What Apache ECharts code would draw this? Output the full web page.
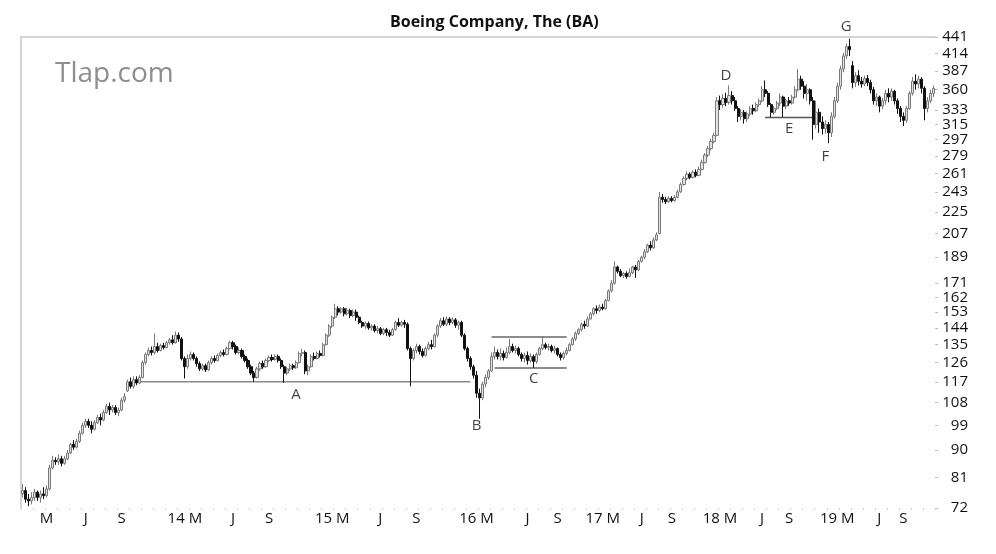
<!DOCTYPE html>
<html>
<head>
<meta charset="utf-8">
<title>Boeing Company, The (BA)</title>
<script src="https://cdn.jsdelivr.net/npm/echarts@6/dist/echarts.min.js"></script>
<style>
  html, body { margin: 0; padding: 0; background: #fff; }
  #chart { width: 996px; height: 554px; }
</style>
</head>
<body>
<div id="chart"></div>
<script>
// weekly bars, [open, close, low, high]
const bars2013 = [
  [76,77,75,79],[77,74.5,73.5,78],[74.5,74,72.5,76],[74,75,73,76.5],
  [75,76.5,74,77.5],[76.5,75,74,77],[75,76,73.5,77],[76,75.5,74.5,78],[75.5,77.5,75,78.5],[77.5,84,77,85],
  [84,86.5,83.5,88],[86.5,86,85,87.5],[86,87,85,88.5],[87,85.5,84.5,88],[85.5,87,85,88],[87,89,86.5,90],
  [89,92,88.5,92.5],[92,91,90,93.5],[91,93,90.5,94],[93,96,92.5,97],
  [96,99,95.5,100],[99,100.5,98,101.5],[100.5,99,98,101.5],[99,97.5,96,100.5],[97.5,100,97,101],[100,102,99.5,103],[102,101,99,103.5],
  [101,104,100.5,105],[104,106.5,103.5,107.5],[106.5,105,103,108],[105,106,104,107],[106,104,103,107],[104,105,102.5,106],
  [105,109,104.5,110],[109,110.5,108,112],
  [113,117,112.5,118],[117,115,114,119],[115,118,114,119.5],[118,116.5,115.5,119.5],[116.5,119,116,120],
  [119,126,118.5,127],[126,130,125,131],[130,132,129,133.5],[132,131,129.5,134],[131,134,130,141],
  [134,132,131,136],[132,134.5,131.5,135.5],[134.5,133.5,132.5,136],[133.5,136,133,137],[136,137.5,135,138.5],[137.5,136,135,140]
]
const bars2014 = [
  [136,140,135.5,142],[140,138,136.5,141.5],[138,128,127,139],[128,124,118.5,129],
  [124,128,123,130],[128,130,127,131.5],[130,128,127,131],[128,125.5,124,129],
  [125.5,123,122,126.5],[123,124.5,122,125.5],[124.5,122.5,121.5,125.5],
  [122.5,126,122,127],[126,128,125,129],[128,127,126,129.5],[127,129.5,126.5,130.5],[129.5,131,128.5,132],[131,130,129,132.5],[130,133,129.5,134],[133,136,132.5,137],
  [136,134,132.5,137],[134,131,130,135],[131,132,130,133.5],[132,129,128,133],[129,127,126,130],[127,124,123,128],[124,121,120,125],[121,119,117,122],
  [119,123,118.5,124],[123,125.5,122,126.5],[125.5,124,123,127],[124,127,123.5,128],[127,128.5,126,129.5],[128.5,127.5,126.5,130],[127.5,129,127,130],[129,127,126,130],
  [127,124,123,128],[124,121,116.5,125],[121,123,120,124],
  [123,124.5,122,125.5],[124.5,123.5,122.5,125.5],[123.5,126,123,127],
  [126,130.5,125.5,131.5],[130.5,131,129,133],
  [131,122,120.5,132],[122,124,120,125],
  [124,129,123.5,130],[129,128,127,131],[128,130.5,127.5,131.5]
]
const bars2015 = [
  [130.5,129.5,128.5,132],[129.5,135,129,136],[135,140,134.5,141],[140,145,139,146],[145,150,144,151],[150,155,149,158],
  [155,153,151,156.5],[153,155,152,156],[155,152,150.5,156],[152,154,151,155.5],[154,151,149.5,155],[151,153,150,154.5],[153,150,148,154.5],[150,147,146,151],
  [147,145,144,148],[145,146.5,143.5,147.5],[146.5,144,143,147.5],[144,145,142.5,146],[145,142.5,141.5,146],[142.5,143.5,141,145],[143.5,141,140,144.5],[141,143,140,144],[143,141.5,139.5,144],[141.5,140,139,143],[140,143,139.5,144],
  [143,147,142.5,148],[147,145.5,144.5,149.5],[145.5,147,144.5,148],[147,146,144,148.5],
  [146,133,132,147],[133,128,115,134],
  [128,132,127,133],[132,134,130.5,135.5],[134,131.5,130,135],[131.5,129.5,128.5,133],[129.5,133,129,134],[133,135,132,136.5],[135,134,132.5,137.5],
  [134,140,133.5,141],[140,145,139,146],[145,148,144,149.5],[148,146,145,150],[146,149,145,150.5],[149,147,145.5,150],[147,148.5,146,150],[148.5,145.5,144,149.5],[145.5,147,143,148],
  [147,140,139,148],[140,133,132,141]
]
const bars2016 = [
  [133,128,126.5,134],[128,124,122.5,129],[124,120,118.5,125],[120,112,110,122],[112,110,101.5,114],
  [110,116,109,117],[116,119,114.5,120.5],[119,122,118,123],[122,129,121.5,131],
  [129,131,127.5,134],[131,129,127.5,132.5],[129,130.5,127,133],[130.5,128.5,127,132],[128.5,131,128,133.5],[131,134,130,138],[134,132,131,135.5],[132,133,130.5,134.5],[133,130,129,134],[130,128,126.5,131],[128,129.5,126,131],[129.5,127,125,131.5],[127,129,126,130.5],[129,126.5,123.5,130],[126.5,130,125.5,131],[130,133,129.5,134],[133,135,132,139.5],[135,133.5,132.5,136],[133.5,134,132,135.5],[134,132,131,135],[132,133,130.5,134.5],[133,130,129,133.5],[130,128.5,127,131],[128.5,130.5,127.5,131.5],[130.5,132,129.5,133.5],
  [132,135,131.5,136],[135,138,134.5,139],[138,141,137,142],[141,143,140,144],[143,146,142,147],[146,145,143.5,148],[145,149,144.5,150.5],
  [149,152,148.5,153],[152,155,151,156]
]
const bars2017 = [
  [155,154,152,157],[154,156,153,157.5],[156,155,154,158],[155,160,154.5,161],
  [160,166,159.5,167],[166,171,165,173],
  [171,182,170,186],[182,179,177.5,183],[179,176,175,180.5],[176,177.5,174.5,178.5],[177.5,175.5,174,179],[175.5,178,175,181],[178,182,177,183],[182,180,174.5,183.5],
  [180,186,179,187],[186,189,185,190],[189,193,187.5,195],[193,198,192,199],[198,196,194,201],[196,202,195,204],[202,206,201,208],
  [207,238,206.5,243],
  [238,236,233,241],[236,234,232,238.5],[234,237,233,239],[237,235,233.5,239],[235,238,234,240],[238,243,237,245],
  [243,250,242,252],[250,256,249,258],[256,260,254,263],[260,257,255,262],[257,262,256,264],[262,259,257,265],[259,265,258,268],
  [265,272,264,275],[272,280,271,282],[280,287,278,290],[287,295,285,298]
]
const bars2018 = [
  [295,302,293,305],[302,345,301,350],
  [345,340,333,352],[340,348,336,354],[348,343,338,356],[343,352,340,366],[352,345,340,358],[345,335,332,350],
  [335,325,318,338],[325,330,320,334],[330,322,316,333],[322,328,318,331],
  [328,335,325,338],[335,332,327,340],[332,340,330,343],[340,345,337,348],
  [345,360,343,365],[360,355,350,373],
  [355,340,337,358],[340,330,324,342],[330,335,327,338],[335,342,333,345],
  [342,350,338,355],[350,338,324,352],[338,345,334,348],[345,342,338,350],[342,350,340,353],[350,360,348,365],[360,375,358,390],[375,365,360,380],
  [365,355,348,372],[355,360,345,368],[360,345,340,362],
  [345,315,297,350],[315,330,310,345],[330,318,305,335],[318,310,303,325],[310,315,304,320]
]
const bars2019 = [
  [315,305,293,318],
  [305,325,300,330],[325,345,322,350],[345,365,342,370],[365,390,360,395],
  [390,410,385,415],[410,425,405,430],[425,420,410,438],
  [395,370,362,402],
  [370,380,364,385],[380,372,366,388],[372,368,363,378],[368,376,365,380],[376,370,365,381],[370,360,355,374],
  [360,345,340,364],[345,350,338,355],[350,338,330,352],[338,345,334,349],[345,355,340,360],[355,350,343,362],[350,358,345,362],[358,345,340,360],[345,335,328,348],
  [335,325,318,338],[325,320,313,330],[320,335,317,338],
  [335,355,333,358],[355,372,352,378],[372,368,360,382],[368,375,362,380],[375,362,355,378],
  [362,335,320,365],
  [335,345,330,350],[345,355,342,360],[355,362,350,366]
]

// x labels: [bar index, text]
const monthLabels = [
  [8,'M'],[21,'J'],[33,'S'],[54,'14 M'],[70,'J'],[82,'S'],[103,'15 M'],[119,'J'],[131,'S'],
  [151,'16 M'],[168,'J'],[178,'S'],[193,'17 M'],[206,'J'],[216,'S'],[232,'18 M'],[246,'J'],[255,'S'],
  [271,'19 M'],[285,'J'],[293,'S']
]
const priceTicks = [72,81,90,99,108,117,126,135,144,153,162,171,189,207,225,243,261,279,297,315,333,360,387,414,441]

// support / range lines: [from bar, to bar, price]
const lineA = [38, 149, 117]
const boxTop = [156, 181, 139]
const boxBottom = [157, 181, 123.4]
const lineE = [247, 263, 323.6]

// letter annotations: [text, bar index, price]
const letters = [
  ['A', 91, 111.2], ['B', 151, 98.7], ['C', 170, 118.3], ['D', 234, 380],
  ['E', 255, 310.4], ['F', 267, 277.7], ['G', 274, 458]
]

const bars = [].concat(bars2013, bars2014, bars2015, bars2016, bars2017, bars2018, bars2019)
const lg = v => Math.log(v)
const font = 'Open Sans'
const labelText = {}
monthLabels.forEach(([i, t]) => { labelText[i] = t })
const cats = bars.map((b, i) => 'w' + i)

function segment(seg, color) {
  return {
    type: 'line',
    data: [[seg[0], lg(seg[2])], [seg[1], lg(seg[2])]],
    symbol: 'none',
    silent: true,
    lineStyle: { color: color, width: 1.5 },
    z: 1
  }
}

const chart = echarts.init(document.getElementById('chart'))
chart.setOption({
  animation: false,
  backgroundColor: '#fff',
  title: [
    {
      text: 'Boeing Company, The (BA)',
      left: 385,
      top: 9,
      textStyle: { fontFamily: font, fontSize: 16, fontWeight: 'bold', color: '#111' }
    },
    {
      text: 'Tlap.com',
      left: 50,
      top: 55,
      textStyle: { fontFamily: font, fontSize: 28, fontWeight: 'normal', color: '#8e8e8e' }
    }
  ],
  grid: { left: 21, right: 61, top: 37, bottom: 46 },
  xAxis: [
    {
      type: 'category',
      data: cats,
      boundaryGap: true,
      axisLine: { show: false },
      axisTick: { show: true, interval: i => i % 4 === 0, length: 2, lineStyle: { color: '#d0d0d0' } },
      axisLabel: {
        interval: i => labelText[i] !== undefined,
        formatter: (v, i) => labelText[i] || '',
        margin: 3,
        fontFamily: font,
        fontSize: 15,
        color: '#111'
      },
      splitLine: { show: false }
    },
    {
      type: 'category',
      data: cats,
      position: 'top',
      axisLine: { show: true, lineStyle: { color: '#c8c8c8', width: 1.5 } },
      axisTick: { show: false },
      axisLabel: { show: false }
    }
  ],
  yAxis: [
    {
      type: 'value',
      position: 'right',
      min: lg(72),
      max: lg(441),
      splitLine: { show: false },
      axisLine: { show: false },
      axisTick: {
        show: true,
        customValues: priceTicks.map(lg),
        length: 3,
        lineStyle: { color: '#bbb' }
      },
      axisLabel: {
        customValues: priceTicks.map(lg),
        formatter: v => String(Math.round(Math.exp(v))),
        align: 'right',
        margin: 33,
        fontFamily: font,
        fontSize: 15,
        color: '#111'
      }
    },
    {
      type: 'value',
      position: 'left',
      min: lg(72),
      max: lg(441),
      splitLine: { show: false },
      axisLine: { show: true, lineStyle: { color: '#c8c8c8', width: 1.5 } },
      axisTick: { show: false },
      axisLabel: { show: false }
    }
  ],
  series: [
    segment(lineA, '#8a8a8a'),
    segment(boxTop, '#666'),
    segment(boxBottom, '#666'),
    segment(lineE, '#555'),
    {
      type: 'candlestick',
      data: bars.map(b => b.map(lg)),
      barWidth: 2.6,
      itemStyle: {
        color: '#e2e2e2',
        borderColor: '#7a7a7a',
        color0: '#111111',
        borderColor0: '#111111',
        borderWidth: 1
      },
      z: 2
    },
    {
      type: 'scatter',
      data: letters.map(l => ({ name: l[0], value: [l[1], lg(l[2])] })),
      symbolSize: 0,
      clip: false,
      silent: true,
      label: {
        show: true,
        position: 'inside',
        formatter: '{b}',
        fontFamily: font,
        fontSize: 15,
        color: '#111'
      },
      z: 3
    }
  ]
})
</script>
</body>
</html>
